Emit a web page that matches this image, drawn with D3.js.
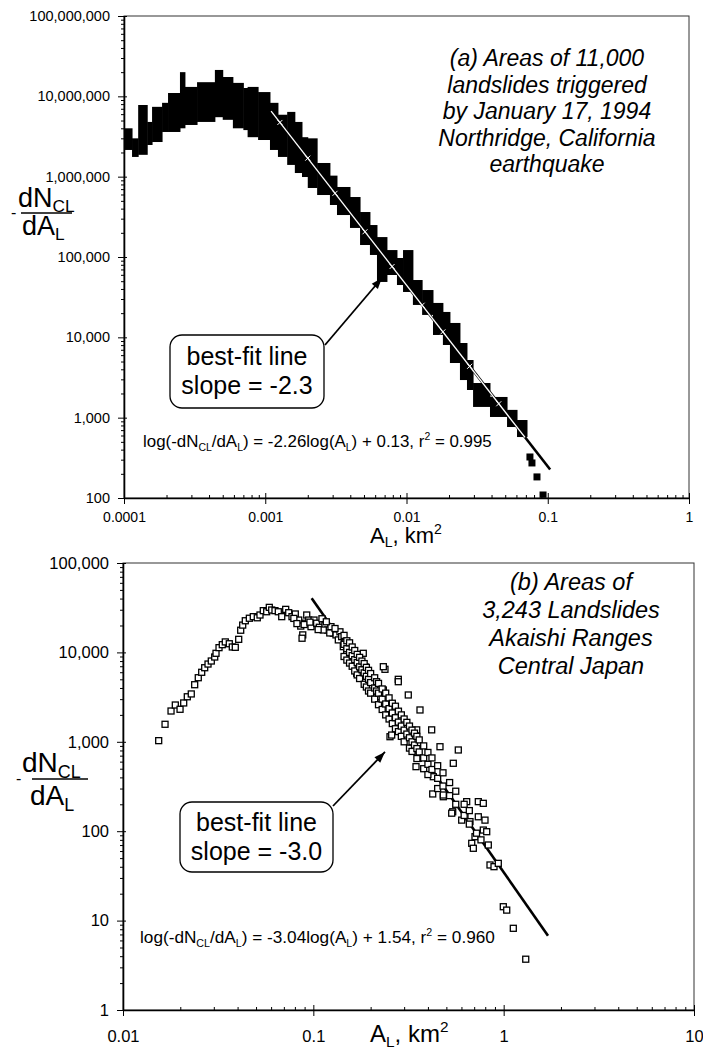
<!DOCTYPE html>
<html><head><meta charset="utf-8">
<script src="https://cdn.jsdelivr.net/npm/d3@7"></script>
<style>
body{margin:0;background:#fff}
svg{display:block}
text{font-family:"Liberation Sans",Arial,Helvetica,sans-serif;fill:#000}
</style>
</head><body>
<svg id="c" width="703" height="1055"></svg>
<script>
// ---------------- DATA ----------------
// (a) Northridge: dense band of filled squares, read as columns (edges in km2, low/high dN/dA)
const topEdges = [0.0001,0.000114,0.000126,0.000146,0.000158,0.000186,0.000205,0.000249,0.00027,0.000329,0.00044,0.0005,0.00059,0.0007,0.00075,0.00089,0.00108,0.00123,0.00143,0.00162,0.00182,0.002,0.00233,0.00287,0.00322,0.00398,0.00469,0.00551,0.00618,0.00727,0.00856,0.00945,0.0111,0.0129,0.0154,0.0181,0.0203,0.0239,0.0268,0.0296,0.039,0.0515,0.0606,0.0713];
const topHigh = [4000000,3000000,7800000,4800000,7400000,8300000,11000000,20000000,13100000,15000000,21300000,17400000,14700000,12700000,13100000,11300000,8300000,5900000,6400000,4800000,3100000,3000000,1480000,1030000,744000,558000,363000,250000,177000,122000,97200,122000,51700,38800,26800,20700,15100,8500,5220,2700,1810,1250,935];
const topLow  = [2150000,1760000,1870000,2480000,2700000,3600000,3600000,4000000,4400000,4800000,5500000,5100000,4000000,3800000,3100000,2860000,2150000,1760000,1400000,1110000,990000,723000,591000,444000,333000,230000,141000,106000,48900,59700,44800,36700,25300,19000,10700,8030,4790,2940,2210,1360,1020,765,574];
const topOutX = [0.0748,0.0773,0.0839,0.0926];
const topOutY = [324,273,183,109];
// best-fit line (a): log(-dN/dA) = -2.26 log(A) + 0.13
const topFitX = [0.0011,0.104];
const topFitY = [6550000,226];
const topFitWhiteX = [0.0011,0.069];
const topFitWhiteY = [6550000,568];
const topMarkX = [0.00127,0.002,0.00312,0.00508,0.0079,0.0129,0.0181,0.028,0.045];
const topMarkY = [4730000,1700000,621000,206000,76100,25100,11700,4360,1490];

// (b) Akaishi Ranges: open squares
const botX = [0.0154,0.01663,0.01788,0.01883,0.01994,0.02084,0.02177,0.02284,0.0238,0.02486,0.02591,0.02687,0.02797,0.0291,0.03033,0.03081,0.03195,0.03324,0.03447,0.03618,0.03752,0.0389,0.04054,0.04153,0.04255,0.04391,0.04611,0.04837,0.05076,0.05245,0.05459,0.05688,0.0587,0.06043,0.06288,0.06546,0.06822,0.07158,0.07424,0.07725,0.0804,0.0838,0.08587,0.08798,0.08724,0.09044,0.09232,0.09456,0.09723,0.1008,0.1041,0.1075,0.111,0.1151,0.119,0.1238,0.1273,0.1315,0.1353,0.138,0.1437,0.1497,0.1527,0.1497,0.1409,0.1128,0.079,0.082,0.0895,0.096,0.106,0.117,0.122,0.13,
0.1591,0.183,0.169,0.1868,0.2379,0.2153,0.2332,0.2795,0.263,0.2528,0.3154,0.3634,0.3492,0.342,0.3463,0.4185,0.4628,0.4269,0.4239,0.4818,0.5437,0.5776,0.5398,0.2332,0.2795,0.258,0.3559,
0.4818,0.5333,0.6393,0.7358,0.7816,0.6263,0.6018,0.6654,0.7358,0.7978,0.7816,0.8145,0.7069,0.6795,0.6928,0.8304,0.8476,0.8897,0.9371,0.9956,1.0375,1.1237,1.306,
0.145,0.145,0.145,0.15,0.15,0.15,0.155,0.155,0.155,0.16,0.16,0.16,0.165,0.165,0.165,0.17,0.17,0.17,0.175,0.175,0.175,0.18,0.18,0.185,0.185,0.185,0.19,0.19,0.19,0.195,0.195,0.195,0.2,0.2,0.2,0.21,0.21,0.21,0.215,0.215,0.22,0.22,0.22,0.23,0.23,0.23,0.24,0.24,0.24,0.25,0.25,0.25,0.26,0.26,0.26,0.27,0.27,0.27,0.28,0.28,0.28,0.29,0.29,0.29,0.3,0.3,0.3,0.31,0.31,0.32,0.32,0.32,0.33,0.33,0.33,0.34,0.34,0.35,0.35,0.35,0.36,0.36,0.38,0.38,0.38,0.4,0.4,0.4,0.42,0.42,0.45,0.45,0.45,0.48,0.48,0.52,0.52,0.56,0.56,0.62,0.62,0.66,0.66,0.72,0.76];
const botY = [1030,1570,2210,2580,2310,2720,3190,3430,4350,5210,5990,6740,7410,8010,8880,9770,11300,12200,13100,12500,11500,11400,14000,17700,20200,22600,24100,25100,24400,26200,29300,28500,31900,29800,29300,28500,25100,30300,27800,25100,26900,23000,19700,15700,14400,21200,26200,23000,19400,23000,21200,19100,23800,20200,17800,19400,16400,15700,13800,17000,11600,10200,8950,12100,15000,17800,24000,21000,20500,21800,18000,22000,16500,18500,
9350,9770,5840,6920,6470,3190,3800,5000,1910,1140,3340,2270,1360,810,527,1360,881,407,261,243,575,810,165,6920,4700,1190,654,
254,159,214,214,205,145,133,128,145,133,103,98.7,86.8,73.2,64.4,70.1,41.9,40.1,43.7,14.3,13.1,8.2,3.7,
12300,9000,15500,11000,8200,13500,10000,12800,7600,9200,7000,11500,8300,10500,6200,7700,9500,5600,6900,8800,5100,6400,8000,5900,7500,4400,5400,6800,4100,5000,6300,3700,4600,5800,3500,4000,5200,3000,3700,4700,3500,4500,2600,3000,3900,2300,2650,3500,2000,2350,3100,1800,2100,2700,1600,1860,2500,1400,1660,2200,1300,1500,2000,1150,1350,1800,1000,1220,1650,1110,1500,850,1000,1350,780,920,1250,840,1150,650,770,1050,660,900,500,560,760,430,490,660,390,540,300,320,450,250,350,200,280,150,200,120,170,95,80];
// best-fit line (b): log(-dN/dA) = -3.04 log(A) + 1.54
const botFitX = [0.098,1.71];
const botFitY = [40400,6.79];

// ticks
const topYTicks = [100,1000,10000,100000,1000000,10000000,100000000];
const topXTicks = [0.0001,0.001,0.01,0.1,1];
const topXLabels = ["0.0001","0.001","0.01","0.1","1"];
const botYTicks = [1,10,100,1000,10000,100000];
const botXTicks = [0.01,0.1,1,10];
const botXLabels = ["0.01","0.1","1","10"];

// annotation texts
const topTitle = ["(a) Areas of 11,000","landslides triggered","by January 17, 1994","Northridge, California","earthquake"];
const botTitle = ["(b) Areas of","3,243 Landslides","Akaishi Ranges","Central Japan"];

// ---------------- DRAW ----------------
const svg = d3.select("#c");
svg.append("rect").attr("width",703).attr("height",1055).attr("fill","#fff");

function minors(lo, hi){ const out=[]; for(let e=lo;e<hi;e++){ for(let k=2;k<=9;k++) out.push(+(k*Math.pow(10,e)).toPrecision(3)); } return out; }

function frameAxes(g, x, y, yTicks, yFmt, yFont, xTicks, xLabels, xFont, xPad, minorY, minorX){
  const [x0,x1] = x.range(), [y0,y1] = y.range();
  g.append("rect").attr("x",x0).attr("y",y1).attr("width",x1-x0).attr("height",y0-y1)
    .attr("fill","none").attr("stroke","#333").attr("stroke-width",1);
  const ya = g.append("g").attr("transform",`translate(${x0},0)`)
    .call(d3.axisLeft(y).tickValues(yTicks).tickFormat(yFmt).tickSizeInner(6).tickSizeOuter(0).tickPadding(8));
  ya.selectAll("text").attr("font-size",yFont).attr("font-family",'"Liberation Sans",Arial,sans-serif');
  const yi = g.append("g").attr("transform",`translate(${x0},0)`)
    .call(d3.axisRight(y).tickValues(yTicks).tickFormat("").tickSizeInner(3).tickSizeOuter(0));
  yi.select(".domain").remove();
  const ym = g.append("g").attr("transform",`translate(${x0},0)`)
    .call(d3.axisLeft(y).tickValues(minorY).tickFormat("").tickSizeInner(3).tickSizeOuter(0));
  ym.select(".domain").remove();
  const xa = g.append("g").attr("transform",`translate(0,${y0})`)
    .call(d3.axisBottom(x).tickValues(xTicks).tickFormat((d,i)=>xLabels[i]).tickSizeInner(6).tickSizeOuter(0).tickPadding(xPad));
  xa.selectAll("text").attr("font-size",xFont).attr("font-family",'"Liberation Sans",Arial,sans-serif');
  const xi = g.append("g").attr("transform",`translate(0,${y0})`)
    .call(d3.axisTop(x).tickValues(xTicks).tickFormat("").tickSizeInner(5).tickSizeOuter(0));
  xi.select(".domain").remove();
  const xm = g.append("g").attr("transform",`translate(0,${y0})`)
    .call(d3.axisTop(x).tickValues(minorX).tickFormat("").tickSizeInner(3).tickSizeOuter(0));
  xm.select(".domain").remove();
  g.selectAll(".domain").attr("stroke","#000").attr("stroke-width",1.6);
  g.selectAll(".tick line").attr("stroke","#000").attr("stroke-width",1);
}

function arrow(g, xA, yA, xB, yB){
  g.append("line").attr("x1",xA).attr("y1",yA).attr("x2",xB).attr("y2",yB)
    .attr("stroke","#000").attr("stroke-width",1.8);
  const ang = Math.atan2(yB-yA, xB-xA), L=11, W=4;
  const bx = xB - L*Math.cos(ang), by = yB - L*Math.sin(ang);
  const px = -Math.sin(ang)*W, py = Math.cos(ang)*W;
  g.append("path").attr("d",`M${xB},${yB}L${bx+px},${by+py}L${bx-px},${by-py}Z`).attr("fill","#000");
}

function yLabel(g, xN, yN, xBar0, xBar1, yBar, xA, yA, xMinus, fs){
  const t1 = g.append("text").attr("x",xN).attr("y",yN).attr("font-size",fs);
  t1.append("tspan").text("dN");
  t1.append("tspan").attr("font-size",fs*0.64).attr("dy",fs*0.2).text("CL");
  g.append("line").attr("x1",xBar0).attr("x2",xBar1).attr("y1",yBar).attr("y2",yBar).attr("stroke","#000").attr("stroke-width",1.6);
  g.append("text").attr("x",xMinus).attr("y",yBar+5).attr("font-size",16).text("-");
  const t2 = g.append("text").attr("x",xA).attr("y",yA).attr("font-size",fs);
  t2.append("tspan").text("dA");
  t2.append("tspan").attr("font-size",fs*0.64).attr("dy",fs*0.2).text("L");
}

function xTitle(g, x, y, fs){
  const t = g.append("text").attr("x",x).attr("y",y).attr("font-size",fs);
  t.append("tspan").text("A");
  t.append("tspan").attr("font-size",fs*0.64).attr("dy",fs*0.2).text("L");
  t.append("tspan").attr("dy",-fs*0.2).text(", km");
  t.append("tspan").attr("font-size",fs*0.64).attr("dy",-fs*0.4).text("2");
}

function equation(g, x, y, fs, coef, icpt, r2){
  const t = g.append("text").attr("x",x).attr("y",y).attr("font-size",fs);
  const s = fs*0.62, d = fs*0.22;
  t.append("tspan").text("log(-dN");
  t.append("tspan").attr("font-size",s).attr("dy",d).text("CL");
  t.append("tspan").attr("dy",-d).text("/dA");
  t.append("tspan").attr("font-size",s).attr("dy",d).text("L");
  t.append("tspan").attr("dy",-d).text(`) = ${coef}log(A`);
  t.append("tspan").attr("font-size",s).attr("dy",d).text("L");
  t.append("tspan").attr("dy",-d).text(`) + ${icpt}, r`);
  t.append("tspan").attr("font-size",s).attr("dy",-fs*0.4).text("2");
  t.append("tspan").attr("dy",fs*0.4).text(` = ${r2}`);
}

function fitBox(g, x, y, w, h, lines, fs, base1, base2){
  g.append("rect").attr("x",x).attr("y",y).attr("width",w).attr("height",h).attr("rx",12).attr("ry",12)
    .attr("fill","#fff").attr("stroke","#000").attr("stroke-width",1.3);
  g.append("text").attr("x",x+w/2).attr("y",base1).attr("text-anchor","middle").attr("font-size",fs).text(lines[0]);
  g.append("text").attr("x",x+w/2).attr("y",base2).attr("text-anchor","middle").attr("font-size",fs).text(lines[1]);
}

// ===== Panel (a) =====
const xT = d3.scaleLog().domain([1e-4,1]).range([124,689]);
const yT = d3.scaleLog().domain([100,1e8]).range([498,16]);
const gT = svg.append("g");

gT.append("g").selectAll("rect").data(topHigh).join("rect")
  .attr("x",(d,i)=>xT(topEdges[i])).attr("width",(d,i)=>xT(topEdges[i+1])-xT(topEdges[i])+0.5)
  .attr("y",(d,i)=>yT(topHigh[i])).attr("height",(d,i)=>yT(topLow[i])-yT(topHigh[i]))
  .attr("fill","#000");
gT.append("g").selectAll("rect").data(topOutX).join("rect")
  .attr("x",(d)=>xT(d)-3.5).attr("y",(d,i)=>yT(topOutY[i])-3.5).attr("width",7).attr("height",7).attr("fill","#000");
const lineT = d3.line().x(d=>xT(d[0])).y(d=>yT(d[1]));
gT.append("path").attr("d",lineT(topFitX.map((d,i)=>[d,topFitY[i]]))).attr("stroke","#000").attr("stroke-width",2.6).attr("fill","none");
gT.append("path").attr("d",lineT(topFitWhiteX.map((d,i)=>[d,topFitWhiteY[i]]))).attr("stroke","#fff").attr("stroke-width",1.3).attr("fill","none");
gT.append("g").selectAll("path").data(topMarkX).join("path")
  .attr("d",(d,i)=>{const cx=xT(d), cy=yT(topMarkY[i]); return `M${cx-2.5},${cy-2.5}L${cx+2.5},${cy+2.5}M${cx-2.5},${cy+2.5}L${cx+2.5},${cy-2.5}`;})
  .attr("stroke","#fff").attr("stroke-width",1);

frameAxes(gT, xT, yT, topYTicks, d3.format(","), 14.5, topXTicks, topXLabels, 14, 8, minors(2,8), minors(-4,0));

const tA = gT.append("text").attr("text-anchor","middle").attr("font-size",23).attr("font-style","italic");
topTitle.forEach((s,i)=>tA.append("tspan").attr("x",547).attr("y",66+i*26.5).text(s));
fitBox(gT, 170, 335, 154, 73, ["best-fit line","slope = -2.3"], 25, 365, 394);
arrow(gT, 325, 345, xT(0.0067), yT(54800));
equation(gT, 143, 447, 16.9, "-2.26", "0.13", "0.995");
yLabel(gT, 18, 207, 21, 72, 213, 22, 235, 11, 27);
xTitle(gT, 370, 543, 22);

// ===== Panel (b) =====
const xB = d3.scaleLog().domain([0.01,10]).range([123,694]);
const yB = d3.scaleLog().domain([1,1e5]).range([1010,563]);
const gB = svg.append("g");
const lineB = d3.line().x(d=>xB(d[0])).y(d=>yB(d[1]));
gB.append("path").attr("d",lineB(botFitX.map((d,i)=>[d,botFitY[i]]))).attr("stroke","#000").attr("stroke-width",2.6).attr("fill","none");
gB.append("g").selectAll("rect").data(botX).join("rect")
  .attr("x",d=>xB(d)-3).attr("y",(d,i)=>yB(botY[i])-3).attr("width",6).attr("height",6)
  .attr("fill","#fff").attr("stroke","#000").attr("stroke-width",1.3);

frameAxes(gB, xB, yB, botYTicks, d3.format(","), 16.5, botXTicks, botXLabels, 16.5, 14, minors(0,5), minors(-2,1));

const tB = gB.append("text").attr("text-anchor","middle").attr("font-size",23.5).attr("font-style","italic");
botTitle.forEach((s,i)=>tB.append("tspan").attr("x",571).attr("y",590+i*28).text(s));
fitBox(gB, 180, 802, 153, 70, ["best-fit line","slope = -3.0"], 25, 831, 860);
arrow(gB, 333, 806, xB(0.2379), yB(769));
equation(gB, 140, 943, 17.2, "-3.04", "1.54", "0.960");
yLabel(gB, 22, 772, 32, 88, 779, 30, 805, 16, 28);
xTitle(gB, 370, 1042, 24);
</script>
</body></html>
